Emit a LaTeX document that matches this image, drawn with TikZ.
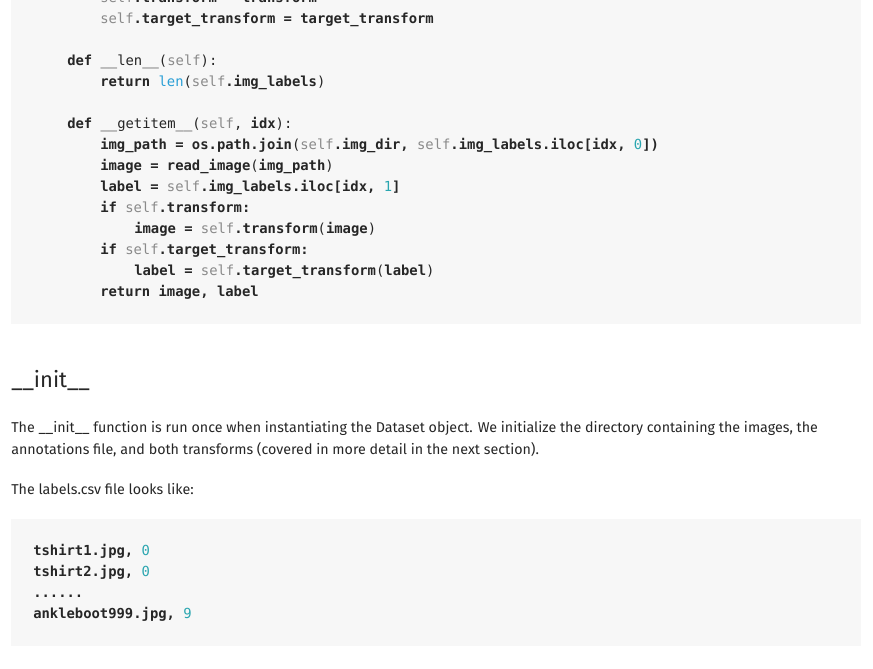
\documentclass[tikz,border=0pt]{standalone}
\usepackage{fontspec}
\setmainfont{Fira Sans}
\setmonofont{DejaVu Sans Mono}[Scale=0.98]
\definecolor{bg}{HTML}{F7F7F7}
\definecolor{selfc}{HTML}{8A8A8A}
\definecolor{lenc}{HTML}{2A9FD6}
\definecolor{numc}{HTML}{2AA6B0}
\definecolor{txt}{HTML}{262626}
\newcommand{\Sf}{{\mdseries\color{selfc}self}}
\newcommand{\Nm}[1]{{\mdseries\color{numc}#1}}
\newcommand{\Ln}{{\mdseries\color{lenc}len}}
\newcommand{\Md}[1]{{\mdseries #1}}
\begin{document}
\begin{tikzpicture}[x=0.75pt,y=-0.75pt,
  code/.style={anchor=base west,inner sep=0,font=\ttfamily\bfseries\fontsize{10.6}{12}\selectfont,text=txt},
  para/.style={anchor=base west,inner sep=0,font=\fontsize{10.7}{13}\selectfont,text=txt}]
\useasboundingbox[fill=white] (0,0) rectangle (873,668);
\fill[bg] (11,-5) rectangle (861,324);
\fill[bg] (11,519) rectangle (861,646);
\node[code] (l0) at (100,2) {\Sf.transform = transform};
\node[code] (l1) at (100,23) {\Sf.target\_transform = target\_transform};
\node[code] (l2) at (67,65) {def \Md{\_\_len\_\_(\Sf):}};
\node[code] (l3) at (100,86) {return \Ln\Md{(}\Sf.img\_labels\Md{)}};
\node[code] (l4) at (67,128) {def \Md{\_\_getitem\_\_(\Sf,} idx\Md{):}};
\node[code] (l5) at (100,149) {img\_path = os.path.join\Md{(}\Sf.img\_dir, \Sf.img\_labels.iloc[idx, \Nm{0}])};
\node[code] (l6) at (100,170) {image = read\_image\Md{(}img\_path\Md{)}};
\node[code] (l7) at (100,191) {label = \Sf.img\_labels.iloc[idx, \Nm{1}]};
\node[code] (l8) at (100,212) {if \Sf.transform:};
\node[code] (l9) at (134,233) {image = \Sf.transform\Md{(}image\Md{)}};
\node[code] (l10) at (100,254) {if \Sf.target\_transform:};
\node[code] (l11) at (134,275) {label = \Sf.target\_transform\Md{(}label\Md{)}};
\node[code] (l12) at (100,296) {return image, label};
\node[anchor=base west,inner sep=0,font=\fontsize{16.5}{18}\selectfont,text=txt] (h) at (11,387) {\_\_init\_\_};
\node[para] (p1) at (11,432) {The \_\_init\_\_ function is run once when instantiating the Dataset object. We initialize the directory containing the images, the};
\node[para] (p2) at (11,454) {annotations file, and both transforms (covered in more detail in the next section).};
\node[para] (p3) at (11,494) {The labels.csv file looks like:};
\node[code] (c1) at (33,555) {tshirt1.jpg, \Nm{0}};
\node[code] (c2) at (33,576) {tshirt2.jpg, \Nm{0}};
\node[code] (c3) at (33,597) {......};
\node[code] (c4) at (33,618) {ankleboot999.jpg, \Nm{9}};
\end{tikzpicture}
\end{document}
